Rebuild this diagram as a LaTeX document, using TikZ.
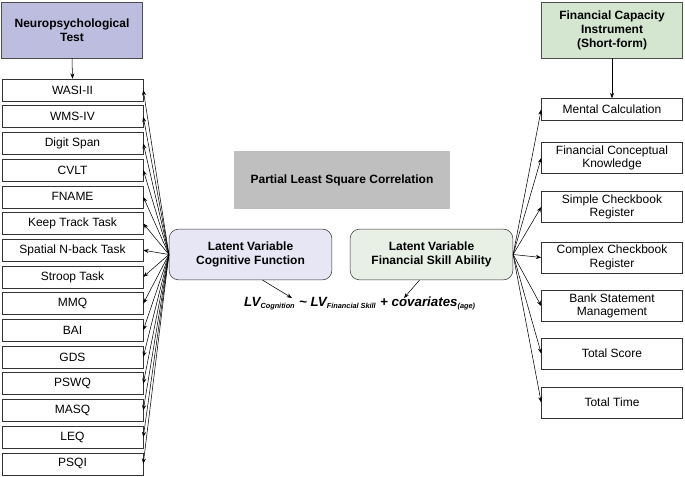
\documentclass[tikz,border=0pt]{standalone}
\usepackage{fontspec}
\setmainfont{Liberation Sans}
\usetikzlibrary{arrows.meta}

\definecolor{neuro}{HTML}{BDBDE0}
\definecolor{fincap}{HTML}{D4E6D0}
\definecolor{lvcog}{HTML}{E6E6F4}
\definecolor{lvfin}{HTML}{E8F0E6}

\tikzset{
  item/.style={draw=black!80, minimum width=105.75pt, minimum height=16.5pt, inner sep=0pt, font=\fontsize{9}{10}\selectfont, align=center},
  head/.style={draw=black!70, minimum width=105.75pt, inner sep=0pt, font=\bfseries\fontsize{9}{10.5}\selectfont, align=center},
  latent/.style={draw=black!80, rounded corners=7pt, minimum width=122pt, minimum height=38pt, font=\bfseries\fontsize{9}{10.5}\selectfont, align=center},
  link/.style={-{Stealth[length=4pt,width=3pt]}, thin}
}

\begin{document}
\begin{tikzpicture}[x=0.75pt, y=-0.75pt]
\useasboundingbox (0,0) rectangle (685,477);

% Header boxes.
\node[head, fill=neuro, minimum height=42pt] (neuro) at (72,30) {Neuropsychological\\Test};
\node[head, fill=fincap, minimum height=42pt] (fcap) at (612,30) {Financial Capacity\\Instrument\\(Short-form)};

% Latent variables and correlation.
\node[fill=black!25, minimum width=162pt, minimum height=43pt, font=\bfseries\fontsize{9}{10}\selectfont] (pls) at (342,180) {Partial Least Square Correlation};
\node[latent, fill=lvcog] (cog) at (250.5,254.5) {Latent Variable\\Cognitive Function};
\node[latent, fill=lvfin] (fin) at (431.5,254.5) {Latent Variable\\Financial Skill Ability};
\node[font=\bfseries\itshape\fontsize{10}{12}\selectfont] (eq) at (360,303)
  {LV\textsubscript{\fontsize{5.5}{6}\selectfont Cognition} \char`~{} LV\textsubscript{\fontsize{5.5}{6}\selectfont Financial Skill} + covariates\textsubscript{\fontsize{5.5}{6}\selectfont (age)}};
\coordinate (eqL) at (292,298);
\coordinate (eqR) at (404,298);

% Neuropsychological tests.
\foreach \name [count=\i from 0] in {WASI-II, WMS-IV, Digit Span, CVLT, FNAME, Keep Track Task, Spatial N-back Task, Stroop Task, MMQ, BAI, GDS, PSWQ, MASQ, LEQ, PSQI} {
  \node[item] (np\i) at (72.5,{90+26.7*\i}) {\name};
  \draw[link] (cog.west) -- (np\i.east);
}
\draw[link] (neuro.south) -- (np0.north);

% Financial capacity items.
\node[item] (fc0) at (612,109.5) {Mental Calculation};
\node[item, minimum height=23pt] (fc1) at (612,158) {Financial Conceptual\\Knowledge};
\node[item, minimum height=23pt] (fc2) at (612,207) {Simple Checkbook\\Register};
\node[item, minimum height=23pt] (fc3) at (612,257.5) {Complex Checkbook\\Register};
\node[item, minimum height=23pt] (fc4) at (612,306) {Bank Statement\\Management};
\node[item, minimum height=23pt] (fc5) at (612,353.5) {Total Score};
\node[item, minimum height=23pt] (fc6) at (612,402.5) {Total Time};
\foreach \i in {0,...,6}
  \draw[link] (fin.east) -- (fc\i.west);
\draw[link] (fcap.south) -- (fc0.north);

% Into the equation.
\draw[link] ([xshift=9pt]cog.south) -- (eqL);
\draw[link] ([xshift=-9pt]fin.south) -- (eqR);
\end{tikzpicture}
\end{document}
